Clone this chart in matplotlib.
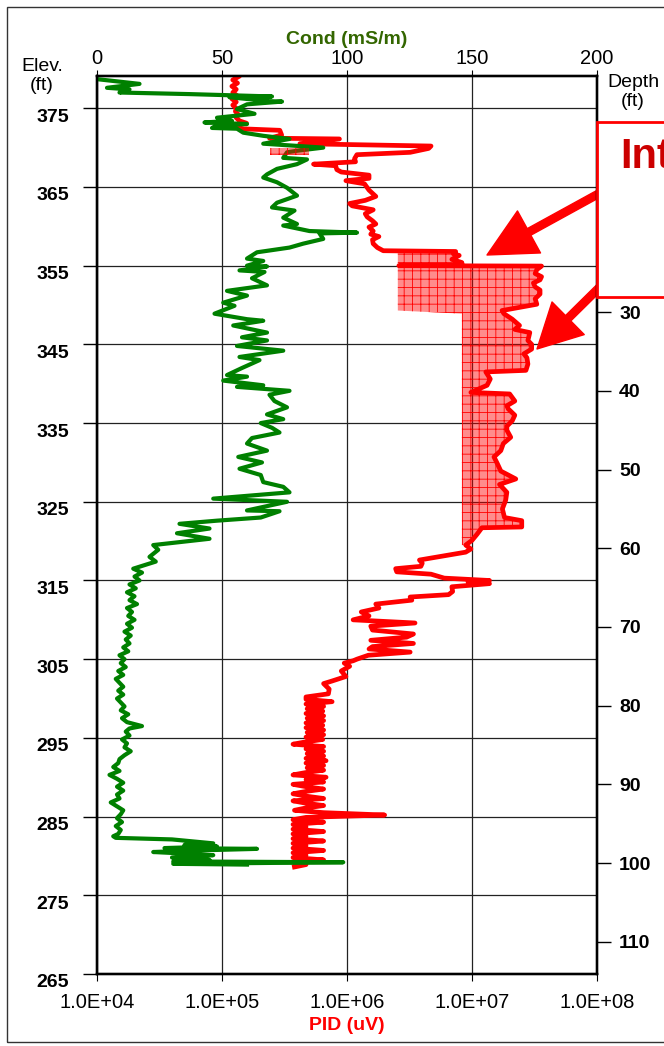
import matplotlib
matplotlib.use("Agg")
import matplotlib.pyplot as plt
import matplotlib.transforms as mtransforms
from matplotlib.patches import Rectangle
from matplotlib.ticker import FuncFormatter

plt.rcParams['font.family'] = ['Liberation Sans', 'DejaVu Sans']
plt.rcParams['hatch.linewidth'] = 0.6

# ---- conductivity log (elevation ft, mS/m)
cond_elev = [378.7, 378.1, 377.6, 377.4, 377.0, 376.8, 376.5, 376.4, 375.9, 375.85, 375.5, 374.9,
             374.3, 373.8, 373.4, 373.2, 373.0, 372.8, 372.5, 372.4, 371.9, 371.5, 371.1, 370.5,
             370.0, 369.6, 369.4, 368.7, 368.5, 367.9, 367.3, 366.6, 366.2, 365.6, 364.9, 363.9,
             363.0, 362.4, 362.0, 361.1, 360.3, 360.1, 359.4, 359.2, 359.1, 358.4, 357.8, 357.3,
             356.7, 355.9, 355.6, 355.0, 354.9, 354.4, 354.2, 353.4, 352.5, 351.8, 351.2, 350.3,
             349.9, 348.9, 348.2, 348.0, 347.4, 346.5, 345.9, 345.5, 344.8, 344.2, 343.4, 343.0,
             342.0, 341.1, 340.9, 340.4, 339.8, 339.6, 339.1, 338.6, 337.8, 337.0, 336.1, 335.5,
             335.0, 334.4, 333.8, 333.1, 332.4, 331.5, 330.7, 330.0, 329.2, 328.4, 327.5, 326.9,
             326.2, 325.4, 325.0, 323.9, 323.8, 323.0, 322.6, 322.2, 321.6, 321.0, 320.3, 319.5,
             318.9, 318.0, 317.4, 316.5, 316.0, 315.5, 315.0, 314.5, 314.0, 313.5, 313.0, 312.5,
             312.0, 311.5, 311.0, 310.5, 310.0, 309.5, 309.0, 308.5, 308.0, 307.5, 307.0, 306.5,
             306.0, 305.5, 305.0, 304.5, 304.0, 303.5, 303.0, 302.5, 302.0, 301.5, 301.0, 300.5,
             300.0, 299.5, 299.0, 298.5, 298.0, 297.5, 297.0, 296.5, 296.2, 295.8, 295.3, 294.8,
             294.3, 293.8, 293.3, 292.8, 292.3, 291.8, 291.3, 290.8, 290.3, 289.8, 289.3, 288.8,
             288.3, 287.8, 287.3, 286.8, 286.3, 285.8, 285.3, 284.8, 284.3, 283.8, 283.3, 282.8,
             282.5, 282.3, 282.1, 281.6, 281.4, 281.2, 281.0, 280.9, 280.7, 280.5, 280.3, 280.1,
             279.8, 279.5, 279.3, 279.2, 279.0, 278.9]
cond_val = [0, 17, 4, 13, 9, 37, 70, 53, 69, 74, 60, 56,
            63, 48, 54, 43, 60, 48, 46, 56, 58.5, 66.5, 77, 66.5,
            90.5, 80, 76, 74.5, 84, 80, 72, 68, 66.5, 72, 76, 80,
            72, 70, 79, 74.5, 80, 74.5, 85, 104, 89, 90.5, 82.5, 77,
            64, 60, 66.5, 60, 68, 57, 67, 62, 68, 52, 60, 50.5,
            55, 47, 60, 66.5, 54.5, 68, 58, 68, 56, 74.5, 57, 65,
            58, 52, 60, 50.5, 66.5, 56, 77, 69, 71, 76, 68, 74.5,
            65.5, 70, 73, 62, 60, 68, 56.5, 66, 57, 65.5, 66.5, 74.5,
            77, 46.5, 76, 60, 73, 65.5, 48, 33, 45, 32, 45, 22.5,
            24.5, 21, 23.5, 14.5, 18, 15, 17, 13, 15.5, 12, 15, 13,
            16, 12, 14, 12.5, 15, 12, 14, 11, 13.5, 11.5, 13, 10.5,
            12.5, 9, 11, 9.5, 11.5, 8.5, 10.5, 7.5, 9, 10.5, 8.5, 10.5,
            8, 9.5, 11, 9.5, 12.5, 10, 12, 18, 13, 11.5, 13, 10,
            12, 11, 13.5, 11, 9, 8.5, 6.5, 9, 5, 8, 10.5, 8,
            10.5, 8, 9, 5.5, 8, 10.5, 9.5, 8, 10, 7.5, 9.5, 8.5,
            6.5, 7.5, 30, 46.5, 35, 48, 27, 64, 40, 22.5, 35, 46.5,
            30, 45, 30.5, 98.5, 30.5, 60]

# ---- PID log (elevation ft, uV)
pid_upper_elev = [379.0, 378.6, 378.2, 377.8, 377.4, 377.0, 376.6, 376.2, 375.8, 375.4, 375.0, 374.6,
                  374.2, 373.8, 373.4, 373.1, 372.9, 372.6, 372.4, 372.2, 371.9, 371.6, 371.2, 371.1,
                  370.8, 370.5, 370.2, 369.9, 369.4, 369.1, 368.6, 368.2, 367.9, 367.7, 367.2, 366.9,
                  366.5, 366.1, 365.8, 365.4, 364.6, 363.8, 363.3, 362.9, 362.6, 362.1, 361.6, 361.2,
                  360.7, 360.3, 359.9, 359.4, 359.0, 358.7, 358.3, 357.8, 357.3, 356.9]
pid_upper_val = [1.35e5, 1.22e5, 1.33e5, 1.20e5, 1.30e5, 1.22e5, 1.32e5, 1.20e5, 1.30e5, 1.22e5, 1.30e5, 1.28e5,
                 1.35e5, 1.30e5, 1.38e5, 1.57e5, 1.32e5, 1.36e5, 1.40e5, 2.9e5, 2.95e5, 3.0e5, 2.4e5, 8.7e5,
                 6.0e5, 4.2e5, 4.7e6, 4.5e6, 3.2e6, 1.2e6, 1.15e6, 1.17e6, 5.4e5, 8.1e5, 8.3e5, 9.0e5,
                 1.5e6, 1.5e6, 9.8e5, 1.38e6, 1.5e6, 1.7e6, 1.4e6, 1.05e6, 1.1e6, 1.62e6, 1.4e6, 1.45e6,
                 1.6e6, 1.7e6, 1.5e6, 1.62e6, 1.55e6, 1.8e6, 1.6e6, 1.62e6, 1.75e6, 1.95e6]

# part of the PID log inside the highlighted interval
pid_zone_elev = [356.8, 356.5, 356.3, 355.8, 355.4, 355.05, 355.0, 354.95, 354.5, 354.0, 353.6, 353.2,
                 352.8, 352.3, 351.9, 351.4, 350.8, 350.1, 349.3, 348.9, 348.2, 347.4, 346.9, 346.5,
                 345.5, 345.0, 344.4, 343.8, 343.3, 342.5, 341.7, 341.5, 340.6, 339.8, 338.9, 338.7,
                 337.8, 337.2, 336.8, 336.0, 335.3, 334.6, 334.1, 333.2, 332.4, 331.5, 330.7, 329.8,
                 328.9, 327.9, 327.2, 326.2, 325.2, 324.1, 323.0, 322.6, 321.8, 321.7, 320.9, 320.1,
                 319.5]
pid_zone_val = [7.4e6, 7.1e6, 7.9e6, 6.9e6, 8.3e6, 8.3e6, 2.6e6, 3.6e7, 3.3e7, 3.2e7, 3.6e7, 3.5e7,
                3.1e7, 3.2e7, 3.5e7, 3.5e7, 3.2e7, 3.3e7, 1.74e7, 1.8e7, 2.1e7, 2.4e7, 2.2e7, 2.9e7,
                2.8e7, 3.0e7, 3.0e7, 2.6e7, 2.75e7, 2.8e7, 2.7e7, 1.29e7, 1.4e7, 1.32e7, 9.8e6, 2.0e7,
                2.2e7, 1.9e7, 1.95e7, 2.2e7, 2.1e7, 1.9e7, 1.9e7, 2.04e7, 1.78e7, 1.7e7, 1.5e7, 1.6e7,
                1.7e7, 2.24e7, 1.66e7, 1.9e7, 1.86e7, 1.75e7, 1.82e7, 2.5e7, 2.5e7, 1.2e7, 1.1e7, 1.0e7,
                8.9e6]
zone_left = [2.55e6] * 19 + [8.3e6] * 42

pid_lower_elev = [319.0, 318.6, 317.6, 317.2, 316.8, 316.5, 316.1, 315.8, 315.3, 315.0, 314.8, 314.6,
                  314.2, 313.6, 313.2, 312.9, 312.5, 312.0, 311.5, 311.0, 310.5, 310.0, 309.6, 309.2,
                  308.7, 308.2, 307.8, 307.4, 307.0, 306.6, 306.3, 305.9, 305.5, 305.0, 304.8, 304.5,
                  304.1, 303.5, 302.8, 302.2, 301.9, 301.2, 300.6, 300.2]
pid_lower_val = [9.8e6, 8.9e6, 3.8e6, 4.0e6, 3.9e6, 2.45e6, 2.5e6, 4.7e6, 6.0e6, 1.38e7, 9.3e6, 1.38e7,
                 6.9e6, 7.0e6, 6.5e6, 3.2e6, 3.3e6, 1.7e6, 1.8e6, 1.3e6, 1.5e6, 1.12e6, 3.5e6, 1.55e6,
                 1.6e6, 3.4e6, 3.0e6, 1.55e6, 3.4e6, 1.6e6, 1.5e6, 3.2e6, 1.48e6, 1.2e6, 1.12e6, 9.5e5,
                 1.05e6, 9.0e5, 9.8e5, 7.5e5, 6.5e5, 7.2e5, 7.1e5, 4.7e5]

pid_base_elev = [299.9, 299.6, 299.3, 299.0, 298.7, 298.4, 298.1, 297.8, 297.5, 297.2, 296.9, 296.6,
                 296.3, 296.0, 295.7, 295.4, 295.1, 294.8, 294.5, 294.2, 293.9, 293.6, 293.3, 293.0,
                 292.7, 292.4, 292.1, 291.8, 291.5, 291.2, 290.9, 290.6, 290.3, 290.0, 289.7, 289.4,
                 289.1, 288.8, 288.5, 288.2, 287.9, 287.6, 287.3, 287.0, 286.7, 286.4, 286.1, 285.8,
                 285.5, 285.2, 284.9, 284.6, 284.3, 284.0, 283.7, 283.4, 283.1, 282.8, 282.5, 282.2,
                 281.9, 281.6, 281.3, 281.0, 280.7, 280.4, 280.1, 279.8, 279.5, 279.2, 278.9, 278.6]
pid_base_val = [4.7e5, 7.6e5, 4.7e5, 6.5e5, 4.8e5, 6.4e5, 4.7e5, 6.5e5, 4.8e5, 6.5e5, 4.7e5, 6.4e5,
                4.7e5, 6.5e5, 4.8e5, 6.5e5, 4.7e5, 6.4e5, 4.7e5, 3.7e5, 6.5e5, 4.7e5, 6.5e5, 4.8e5,
                6.5e5, 4.7e5, 6.8e5, 4.7e5, 6.5e5, 4.8e5, 6.5e5, 4.7e5, 3.7e5, 6.8e5, 4.7e5, 6.5e5,
                3.7e5, 4.7e5, 6.5e5, 4.7e5, 3.7e5, 4.7e5, 6.5e5, 3.7e5, 4.7e5, 6.5e5, 4.7e5, 3.8e5,
                6.5e5, 2.0e6, 4.7e5, 3.7e5, 6.5e5, 3.7e5, 4.7e5, 3.7e5, 6.5e5, 3.7e5, 4.7e5, 3.7e5,
                6.5e5, 3.7e5, 4.7e5, 3.7e5, 6.5e5, 3.7e5, 4.7e5, 3.7e5, 6.5e5, 3.7e5, 4.7e5, 3.8e5]

# small shaded patch near the top
patch_elev = [370.0, 369.0]
patch_left = [2.4e5, 2.4e5]
patch_right = [5.0e5, 5.0e5]

elev_ticks = [265, 275, 285, 295, 305, 315, 325, 335, 345, 355, 365, 375]
depth_ticks = [30, 40, 50, 60, 70, 80, 90, 100, 110]
cond_ticks = [0, 50, 100, 150, 200]
pid_ticks = [1e4, 1e5, 1e6, 1e7, 1e8]
top_elev = 379.1   # ground surface = depth 0

pid_elev = pid_upper_elev + pid_zone_elev + pid_lower_elev + pid_base_elev
pid_val = pid_upper_val + pid_zone_val + pid_lower_val + pid_base_val

W, H = 664, 1046
fig = plt.figure(figsize=(W / 100, H / 100), dpi=100)
ax = fig.add_axes([97 / W, 1 - 974 / H, 500 / W, 898 / H])
axp = ax.twiny()
axd = ax.twinx()

axp.set_xscale('log')
axp.set_xlim(1e4, 1e8)
ax.set_xlim(0, 200)
ax.set_ylim(265, top_elev)
axd.set_ylim(top_elev - 265, 0)

red = '#ff0000'
green = '#008000'
ax.plot(pid_val, pid_elev, color=red, lw=3.4, solid_joinstyle='round',
        transform=axp.transData, zorder=3)
ax.plot(cond_val, cond_elev, color=green, lw=3.0, solid_joinstyle='round', zorder=3.5)
ax.fill_betweenx(pid_zone_elev, zone_left, pid_zone_val, transform=axp.transData,
                 facecolor=(1, 0, 0, 0.45), edgecolor=red, hatch='++', lw=0, zorder=4)
ax.fill_betweenx(patch_elev, patch_left, patch_right, transform=axp.transData,
                 facecolor=(1, 0, 0, 0.45), edgecolor=red, hatch='++', lw=0, zorder=4)
ax.set_xlim(0, 200)
ax.set_ylim(265, top_elev)

# axes / ticks
ax.set_axisbelow(True)
ax.grid(True, color='#222222', lw=0.9)
ax.xaxis.tick_top()
ax.set_xticks(cond_ticks)
ax.set_xticklabels([str(c) for c in cond_ticks], fontsize=14.5)
ax.xaxis.set_label_position('top')
ax.set_xlabel('Cond (mS/m)', color='#336600', fontsize=14, fontweight='bold', labelpad=3)
ax.tick_params(axis='x', direction='out', length=4, pad=2)
ax.yaxis.tick_left()
ax.set_yticks(elev_ticks)
ax.set_yticklabels([str(e) for e in elev_ticks], fontsize=14, fontweight='bold')
ax.tick_params(axis='y', direction='out', length=10, width=1, pad=10)
off = mtransforms.ScaledTranslation(0, -5 / 72, fig.dpi_scale_trans)
for lab in ax.get_yticklabels():
    lab.set_transform(lab.get_transform() + off)

axp.xaxis.tick_bottom()
axp.xaxis.set_label_position('bottom')
axp.set_xticks(pid_ticks)
axp.xaxis.set_minor_locator(matplotlib.ticker.NullLocator())
axp.xaxis.set_major_formatter(FuncFormatter(lambda v, p: f"{v:.1E}"))
axp.tick_params(axis='x', direction='out', length=5, labelsize=14.5, pad=9)
axp.set_xlabel('PID (uV)', color=red, fontsize=14, fontweight='bold', labelpad=3)

axd.set_yticks(depth_ticks)
axd.set_yticklabels([str(d) for d in depth_ticks], fontsize=14, fontweight='bold')
axd.tick_params(axis='y', direction='out', length=10, width=1, pad=6)

for a in (ax, axp, axd):
    for s in a.spines.values():
        s.set_linewidth(1.6)

fig.text(42 / W, 1 - 76 / H, 'Elev.\n(ft)', ha='center', va='center', fontsize=14, linespacing=1.15)
fig.text(633 / W, 1 - 92 / H, 'Depth\n(ft)', ha='center', va='center', fontsize=14, linespacing=1.15)

# outer frame
fig.patches.append(Rectangle((7 / W, 4 / H), 2, 1035 / H, transform=fig.transFigure,
                             fill=False, ec='#333333', lw=1))

# arrows pointing at the interval
ax.annotate('', xy=(487, H - 255), xycoords='figure pixels', xytext=(620, H - 182),
            textcoords='figure pixels', annotation_clip=False,
            arrowprops=dict(arrowstyle='simple,head_length=1.15,head_width=1.15,tail_width=0.18',
                            fc=red, ec=red, mutation_scale=30, shrinkA=0, shrinkB=0))
ax.annotate('', xy=(537, H - 349), xycoords='figure pixels', xytext=(612, H - 275),
            textcoords='figure pixels', annotation_clip=False,
            arrowprops=dict(arrowstyle='simple,head_length=1.05,head_width=1.1,tail_width=0.18',
                            fc=red, ec=red, mutation_scale=30, shrinkA=0, shrinkB=0))

# annotation box (runs off the right edge)
fig.patches.append(Rectangle((597 / W, (H - 297) / H), 0.5, 175 / H, transform=fig.transFigure,
                             fc='white', ec=red, lw=2, zorder=20))
fig.text(729 / W, 1 - 137 / H, 'Interpreted\nImpact', ha='center', va='top', fontsize=30,
         fontweight='bold', color='#cc0000', linespacing=1.2, zorder=21)

fig.savefig('out.png', dpi=100)
